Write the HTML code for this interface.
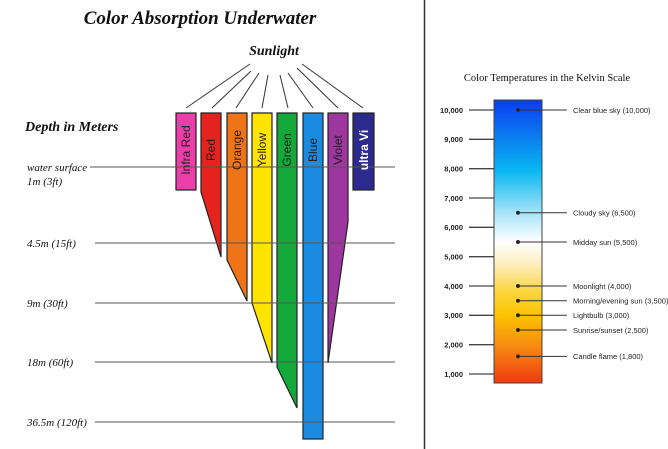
<!DOCTYPE html>
<html><head><meta charset="utf-8"><style>
html,body{margin:0;padding:0;background:#fff;width:668px;height:449px;overflow:hidden}
</style></head><body>
<svg width="668" height="449" viewBox="0 0 668 449" xmlns="http://www.w3.org/2000/svg">
<defs>
<linearGradient id="kg" x1="0" y1="0" x2="0" y2="1">
<stop offset="0" stop-color="#0a3cf0"/>
<stop offset="0.12" stop-color="#0a78f0"/>
<stop offset="0.25" stop-color="#08b8f2"/>
<stop offset="0.40" stop-color="#a8e4f8"/>
<stop offset="0.50" stop-color="#ffffff"/>
<stop offset="0.58" stop-color="#fdeec0"/>
<stop offset="0.68" stop-color="#fcd53a"/>
<stop offset="0.76" stop-color="#fbc400"/>
<stop offset="0.87" stop-color="#f78a10"/>
<stop offset="1" stop-color="#f03a10"/>
</linearGradient>
</defs>
<g font-family="Liberation Serif, serif" font-style="italic" font-weight="bold" fill="#111">
<text x="200" y="24" font-size="19" text-anchor="middle">Color Absorption Underwater</text>
<text x="274" y="55" font-size="14" text-anchor="middle">Sunlight</text>
<text x="25" y="131" font-size="14">Depth in Meters</text>
</g>
<g font-family="Liberation Serif, serif" font-style="italic" font-size="11" fill="#111">
<text x="27" y="171">water surface</text>
<text x="27" y="185">1m (3ft)</text>
<text x="27" y="247">4.5m (15ft)</text>
<text x="27" y="307">9m (30ft)</text>
<text x="27" y="366">18m (60ft)</text>
<text x="27" y="426">36.5m (120ft)</text>
</g>
<g stroke="#333" stroke-width="1">
<line x1="250" y1="64" x2="186" y2="108"/>
<line x1="251" y1="71" x2="212" y2="108"/>
<line x1="259" y1="73" x2="236" y2="108"/>
<line x1="268" y1="75" x2="262" y2="108"/>
<line x1="280" y1="75" x2="288" y2="108"/>
<line x1="288" y1="73" x2="313" y2="108"/>
<line x1="297" y1="68" x2="338" y2="108"/>
<line x1="302" y1="64" x2="363" y2="108"/>
</g>
<g stroke="#222" stroke-width="1.2">
<rect x="176" y="113" width="20" height="77" fill="#ea3fa8"/>
<polygon points="201,113 221,113 221,257 201,192" fill="#e4221e"/>
<polygon points="227,113 247,113 247,301 227,260" fill="#ef7418"/>
<polygon points="252,113 272,113 272,363 252,303" fill="#ffe400"/>
<polygon points="277,113 297,113 297,408 277,367" fill="#12a83a"/>
<rect x="303" y="113" width="20" height="326" fill="#1a8be0"/>
<polygon points="328,113 348,113 348,222 328,363" fill="#9e36a0"/>
<rect x="353" y="113" width="21" height="77" fill="#2c2a8c"/>
</g>
<g stroke="#555" stroke-width="1">
<line x1="90" y1="167" x2="395" y2="167"/>
<line x1="95" y1="243" x2="395" y2="243"/>
<line x1="95" y1="303" x2="395" y2="303"/>
<line x1="95" y1="362" x2="395" y2="362"/>
<line x1="95" y1="422" x2="395" y2="422"/>
</g>
<g font-family="Liberation Sans, sans-serif" font-size="12" fill="#222">
<text transform="translate(190,150) rotate(-90)" text-anchor="middle">Infra Red</text>
<text transform="translate(215,150) rotate(-90)" text-anchor="middle">Red</text>
<text transform="translate(241,150) rotate(-90)" text-anchor="middle">Orange</text>
<text transform="translate(266,150) rotate(-90)" text-anchor="middle">Yellow</text>
<text transform="translate(291,150) rotate(-90)" text-anchor="middle">Green</text>
<text transform="translate(317,150) rotate(-90)" text-anchor="middle">Blue</text>
<text transform="translate(342,150) rotate(-90)" text-anchor="middle">Violet</text>
<text transform="translate(368,150) rotate(-90)" text-anchor="middle" fill="#fff" font-weight="bold">ultra Vi</text>
</g>
<line x1="424.5" y1="0" x2="424.5" y2="449" stroke="#333" stroke-width="1.5"/>
<text x="547" y="81" font-family="Liberation Serif, serif" font-size="10.5" text-anchor="middle" fill="#111">Color Temperatures in the Kelvin Scale</text>
<rect x="494" y="100" width="48" height="283" fill="url(#kg)" stroke="#444" stroke-width="1"/>
<g stroke="#444" stroke-width="1.3">
<line x1="469" y1="110" x2="494" y2="110"/><line x1="469" y1="139.3" x2="494" y2="139.3"/>
<line x1="469" y1="168.7" x2="494" y2="168.7"/><line x1="469" y1="198" x2="494" y2="198"/>
<line x1="469" y1="227.3" x2="494" y2="227.3"/><line x1="469" y1="256.7" x2="494" y2="256.7"/>
<line x1="469" y1="286" x2="494" y2="286"/><line x1="469" y1="315.3" x2="494" y2="315.3"/>
<line x1="469" y1="344.7" x2="494" y2="344.7"/><line x1="469" y1="374" x2="494" y2="374"/>
</g>
<g font-family="Liberation Sans, sans-serif" font-size="7.5" font-weight="bold" fill="#222" text-anchor="end">
<text x="463" y="113">10,000</text><text x="463" y="142">9,000</text><text x="463" y="171.5">8,000</text>
<text x="463" y="201">7,000</text><text x="463" y="230">6,000</text><text x="463" y="259.5">5,000</text>
<text x="463" y="289">4,000</text><text x="463" y="318">3,000</text><text x="463" y="347.5">2,000</text>
<text x="463" y="377">1,000</text>
</g>
<g stroke="#333" stroke-width="1" fill="#111">
<line x1="518" y1="110" x2="567" y2="110"/><circle cx="518" cy="110" r="1.5"/>
<line x1="518" y1="212.7" x2="567" y2="212.7"/><circle cx="518" cy="212.7" r="1.5"/>
<line x1="518" y1="242" x2="567" y2="242"/><circle cx="518" cy="242" r="1.5"/>
<line x1="518" y1="286" x2="567" y2="286"/><circle cx="518" cy="286" r="1.5"/>
<line x1="518" y1="300.7" x2="567" y2="300.7"/><circle cx="518" cy="300.7" r="1.5"/>
<line x1="518" y1="315.3" x2="567" y2="315.3"/><circle cx="518" cy="315.3" r="1.5"/>
<line x1="518" y1="330" x2="567" y2="330"/><circle cx="518" cy="330" r="1.5"/>
<line x1="518" y1="356.4" x2="567" y2="356.4"/><circle cx="518" cy="356.4" r="1.5"/>
</g>
<g font-family="Liberation Sans, sans-serif" font-size="7.5" fill="#222">
<text x="573" y="113">Clear blue sky (10,000)</text>
<text x="573" y="215.5">Cloudy sky (6,500)</text>
<text x="573" y="245">Midday sun (5,500)</text>
<text x="573" y="289">Moonlight (4,000)</text>
<text x="573" y="303.5">Morning/evening sun (3,500)</text>
<text x="573" y="318">Lightbulb (3,000)</text>
<text x="573" y="333">Sunrise/sunset (2,500)</text>
<text x="573" y="359">Candle flame (1,800)</text>
</g>
</svg>
</body></html>
